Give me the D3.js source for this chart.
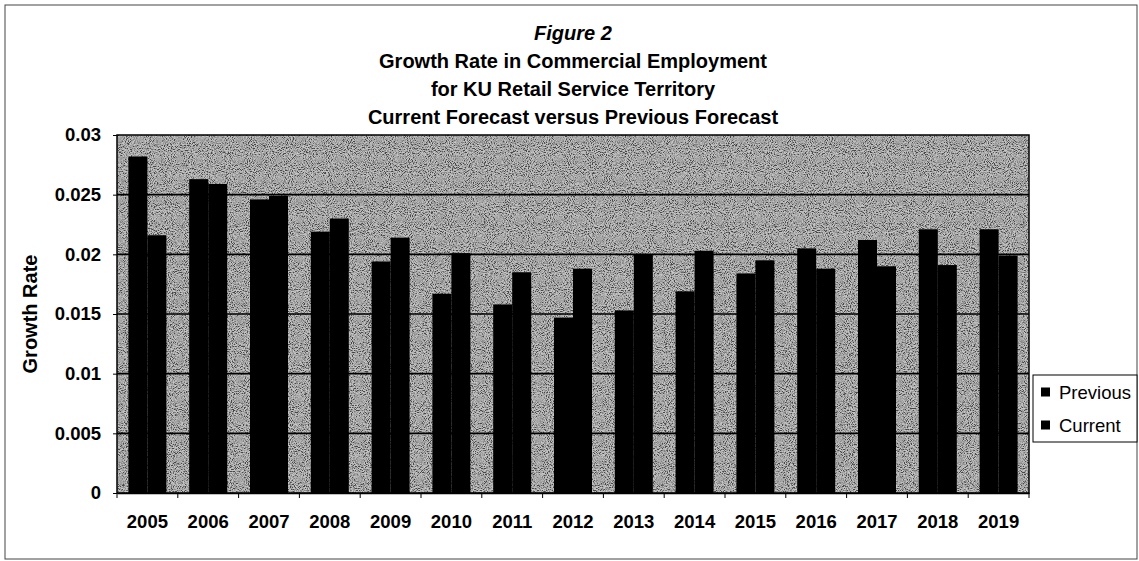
<!DOCTYPE html>
<html>
<head>
<meta charset="utf-8">
<script src="https://cdn.jsdelivr.net/npm/d3@7"></script>
<style>
  html, body { margin: 0; padding: 0; background: #fff; }
  svg { display: block; font-family: "Liberation Sans", Arial, sans-serif; }
</style>
</head>
<body>
<svg id="chart" width="1139" height="561"></svg>
<script>
// Forecast years
const years = ["2005","2006","2007","2008","2009","2010","2011","2012","2013","2014","2015","2016","2017","2018","2019"];
// Series names
const seriesNames = ["Previous", "Current"];
// Growth rate, previous forecast
const previousValues = [0.0282, 0.0263, 0.0246, 0.0219, 0.0194, 0.0167, 0.0158, 0.0147, 0.0153, 0.0169, 0.0184, 0.0205, 0.0212, 0.0221, 0.0221];
// Growth rate, current forecast
const currentValues = [0.0216, 0.0259, 0.0249, 0.0230, 0.0214, 0.0201, 0.0185, 0.0188, 0.0200, 0.0203, 0.0195, 0.0188, 0.0190, 0.0191, 0.0199];
// Value axis ticks
const yTicks = [0, 0.005, 0.01, 0.015, 0.02, 0.025, 0.03];
// Title lines
const titleLines = ["Figure 2", "Growth Rate in Commercial Employment", "for KU Retail Service Territory", "Current Forecast versus Previous Forecast"];

const rows = years.map((y, i) => ({ year: y, Previous: previousValues[i], Current: currentValues[i] }));

const svg = d3.select("#chart");
const plot = { left: 117, right: 1029, top: 135, bottom: 493 };

// grain texture for the plot background
const defs = svg.append("defs");
const grain = defs.append("filter").attr("id", "grain")
  .attr("x", 0).attr("y", 0).attr("width", "100%").attr("height", "100%");
grain.append("feTurbulence").attr("type", "fractalNoise")
  .attr("baseFrequency", 0.95).attr("numOctaves", 2).attr("seed", 7);
grain.append("feColorMatrix").attr("type", "matrix")
  .attr("values", "3 0 0 0 -1  3 0 0 0 -1  3 0 0 0 -1  0 0 0 0 0.5");

// outer frame
svg.append("rect")
  .attr("x", 5).attr("y", 5).attr("width", 1132).attr("height", 554)
  .attr("fill", "#fff").attr("stroke", "#444").attr("stroke-width", 1);

const x0 = d3.scaleBand().domain(years).range([plot.left, plot.right])
  .paddingInner(0.375).paddingOuter(0.1875);
const x1 = d3.scaleBand().domain(seriesNames).range([0, x0.bandwidth()]);
const y = d3.scaleLinear().domain([0, 0.03]).range([plot.bottom, plot.top]);

// plot background
svg.append("rect")
  .attr("x", plot.left).attr("y", plot.top)
  .attr("width", plot.right - plot.left).attr("height", plot.bottom - plot.top)
  .attr("fill", "#8e8e8e");
svg.append("rect")
  .attr("x", plot.left).attr("y", plot.top)
  .attr("width", plot.right - plot.left).attr("height", plot.bottom - plot.top)
  .attr("filter", "url(#grain)");

// gridlines
svg.append("g").selectAll("line")
  .data(yTicks.filter(t => t > 0 && t < 0.03))
  .join("line")
  .attr("x1", plot.left).attr("x2", plot.right)
  .attr("y1", d => y(d)).attr("y2", d => y(d))
  .attr("stroke", "#000").attr("stroke-width", 1.6);

// bars
svg.append("g").selectAll("g")
  .data(rows)
  .join("g")
  .attr("transform", d => `translate(${x0(d.year)},0)`)
  .selectAll("rect")
  .data(d => seriesNames.map(k => ({ key: k, value: d[k] })))
  .join("rect")
  .attr("x", d => x1(d.key))
  .attr("width", x1.bandwidth())
  .attr("y", d => y(d.value))
  .attr("height", d => y(0) - y(d.value))
  .attr("fill", "#000");

// plot border
svg.append("rect")
  .attr("x", plot.left).attr("y", plot.top)
  .attr("width", plot.right - plot.left).attr("height", plot.bottom - plot.top)
  .attr("fill", "none").attr("stroke", "#000").attr("stroke-width", 1.5);

// value axis
const yAxis = svg.append("g")
  .attr("transform", `translate(${plot.left},0)`)
  .call(d3.axisLeft(y).tickValues(yTicks).tickSize(4).tickPadding(12)
    .tickFormat(d => d === 0 ? "0" : String(+d.toFixed(3))));
yAxis.select(".domain").remove();
yAxis.selectAll("line").attr("stroke", "#000");
yAxis.selectAll("text")
  .attr("font-size", 18.5).attr("font-weight", "bold")
  .attr("font-family", "Liberation Sans, Arial, sans-serif").attr("fill", "#000");

// category axis
const xAxis = svg.append("g")
  .attr("transform", `translate(0,${plot.bottom})`)
  .call(d3.axisBottom(x0).tickSize(0).tickPadding(22));
xAxis.select(".domain").attr("stroke", "#000").attr("stroke-width", 1.5);
xAxis.selectAll("text")
  .attr("font-size", 18.5).attr("font-weight", "bold")
  .attr("font-family", "Liberation Sans, Arial, sans-serif").attr("fill", "#000");
// category boundary ticks
const step = x0.step();
svg.append("g").selectAll("line")
  .data(d3.range(years.length + 1))
  .join("line")
  .attr("x1", i => plot.left + i * step).attr("x2", i => plot.left + i * step)
  .attr("y1", plot.bottom).attr("y2", plot.bottom + 5)
  .attr("stroke", "#000").attr("stroke-width", 1);

// axis title
svg.append("text")
  .attr("transform", `translate(37,${(plot.top + plot.bottom) / 2}) rotate(-90)`)
  .attr("text-anchor", "middle")
  .attr("font-size", 20).attr("font-weight", "bold")
  .text("Growth Rate");

// chart title
svg.append("g").selectAll("text")
  .data(titleLines)
  .join("text")
  .attr("x", (plot.left + plot.right) / 2)
  .attr("y", (d, i) => 40 + i * 28)
  .attr("text-anchor", "middle")
  .attr("font-size", 20).attr("font-weight", "bold")
  .attr("font-style", (d, i) => i === 0 ? "italic" : "normal")
  .text(d => d);

// legend
const legend = svg.append("g");
legend.append("rect")
  .attr("x", 1033).attr("y", 375).attr("width", 104).attr("height", 67)
  .attr("fill", "#fff").attr("stroke", "#000").attr("stroke-width", 1);
const items = legend.selectAll("g.item")
  .data(seriesNames)
  .join("g").attr("class", "item")
  .attr("transform", (d, i) => `translate(1041,${392 + i * 33})`);
items.append("rect")
  .attr("x", 0).attr("y", -4.5).attr("width", 9).attr("height", 9)
  .attr("fill", "#000");
items.append("text")
  .attr("x", 18).attr("y", 6.5)
  .attr("font-size", 18.5)
  .text(d => d);
</script>
</body>
</html>
